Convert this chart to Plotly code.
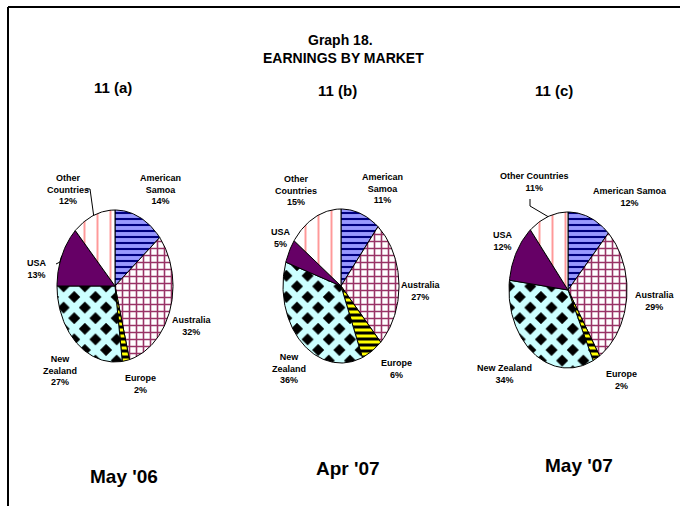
import numpy as np
import plotly.graph_objects as go

# ---- data -------------------------------------------------------------
markets = ["American Samoa", "Australia", "Europe", "New Zealand", "USA", "Other Countries"]
share_may06 = [14, 32, 2, 27, 13, 12]
share_apr07 = [11, 27, 6, 36, 5, 15]
share_may07 = [12, 29, 2, 34, 12, 11]
panel_codes = ["11 (a)", "11 (b)", "11 (c)"]
period_labels = ["May '06", "Apr '07", "May '07"]

# ---- styling ----------------------------------------------------------
FONT = "Liberation Sans, Arial"
fills = {
    "American Samoa": dict(shape="-", bgcolor="#9999FF", fgcolor="#000080", size=6, solidity=0.35),
    "Australia": dict(shape="+", bgcolor="#FFFFFF", fgcolor="#993366", size=7, solidity=0.4),
    "Europe": dict(shape="-", bgcolor="#FFFF00", fgcolor="#000000", size=6, solidity=0.5),
    # diagonal lattice of light cyan leaves black diamonds in a staggered grid
    "New Zealand": dict(shape="x", bgcolor="#000000", fgcolor="#CCFFFF", size=15, solidity=0.68),
    "USA": dict(shape="", bgcolor="#660066", fgcolor="#660066", size=8, solidity=1),
    "Other Countries": dict(shape="|", bgcolor="#FFFFFF", fgcolor="#FF9999", size=13, solidity=0.15),
}

# layout of each elliptical pie (centre x, centre y, radius x, radius y) in page pixels
pies = [
    dict(vals=share_may06, cx=115, cy=286, rx=58, ry=76),
    dict(vals=share_apr07, cx=341, cy=286, rx=58, ry=77),
    dict(vals=share_may07, cx=568, cy=290, rx=59, ry=78),
]

# label text templates and anchor positions per pie
label_text = [
    ["American<br>Samoa<br>{}%", "Australia<br>{}%", "Europe<br>{}%",
     "New<br>Zealand<br>{}%", "USA<br>{}%", "Other<br>Countries<br>{}%"],
    ["American<br>Samoa<br>{}%", "Australia<br>{}%", "Europe<br>{}%",
     "New<br>Zealand<br>{}%", "USA<br>{}%", "Other<br>Countries<br>{}%"],
    ["American Samoa<br>{}%", "Australia<br>{}%", "Europe<br>{}%",
     "New Zealand<br>{}%", "USA<br>{}%", "Other Countries<br>{}%"],
]
label_pos = [
    [(160, 189), (192, 326), (140, 384), (60, 370), (37, 269), (68, 189)],
    [(382, 188), (421, 291), (396, 369), (289, 368), (281, 238), (296, 190)],
    [(630, 197), (655, 301), (621, 380), (504, 374), (503, 241), (534, 182)],
]
# slices that get a leader line: (pie index, slice index, start points near the label)
leaders = [(0, 5, [(86, 189), (90, 189)]), (0, 4, [(56, 264), (60, 262)]),
           (2, 5, [(530, 199), (530, 206)])]


def point(p, ang):
    return p["cx"] + p["rx"] * np.sin(ang), p["cy"] - p["ry"] * np.cos(ang)


fig = go.Figure()
for pi, p in enumerate(pies):
    vals = np.array(p["vals"], dtype=float)
    bounds = np.concatenate([[0], np.cumsum(vals)]) / vals.sum() * 2 * np.pi
    for k, name in enumerate(markets):
        t = np.linspace(bounds[k], bounds[k + 1], max(8, int(vals[k] * 3)))
        ex, ey = point(p, t)
        xs = np.concatenate([[p["cx"]], ex, [p["cx"]]])
        ys = np.concatenate([[p["cy"]], ey, [p["cy"]]])
        f = fills[name]
        fig.add_trace(go.Scatter(
            x=xs, y=ys, mode="lines", fill="toself",
            fillcolor=f["bgcolor"],
            fillpattern=dict(shape=f["shape"], bgcolor=f["bgcolor"], fgcolor=f["fgcolor"],
                             fgopacity=1, size=f["size"], solidity=f["solidity"]),
            line=dict(color="black", width=1), showlegend=False, hoverinfo="skip"))
        tx, ty = label_pos[pi][k]
        fig.add_annotation(x=tx, y=ty, text="<b>" + label_text[pi][k].format(p["vals"][k]) + "</b>",
                           showarrow=False, font=dict(family=FONT, size=9, color="black"),
                           align="center")
    # leader lines from label to slice edge
    for li, si, pts in leaders:
        if li != pi:
            continue
        mid = (bounds[si] + bounds[si + 1]) / 2
        exx, eyy = point(p, mid)
        xs = [q[0] for q in pts] + [exx]
        ys = [q[1] for q in pts] + [eyy]
        fig.add_trace(go.Scatter(x=xs, y=ys, mode="lines", line=dict(color="black", width=1),
                                 showlegend=False, hoverinfo="skip"))

# titles
fig.add_annotation(x=340, y=40, text="<b>Graph 18.</b>", showarrow=False,
                   font=dict(family=FONT, size=14, color="black"))
fig.add_annotation(x=343, y=58, text="<b>EARNINGS BY MARKET</b>", showarrow=False,
                   font=dict(family=FONT, size=14, color="black"))
for (x, y), txt in zip([(113, 87), (337, 90), (554, 90)], panel_codes):
    fig.add_annotation(x=x, y=y, text="<b>" + txt + "</b>", showarrow=False,
                       font=dict(family=FONT, size=15, color="black"))
for (x, y), txt in zip([(124, 476), (348, 468), (579, 465)], period_labels):
    fig.add_annotation(x=x, y=y, text="<b>" + txt + "</b>", showarrow=False,
                       font=dict(family=FONT, size=19, color="black"))

# frame lines on top and left
fig.add_shape(type="line", xref="x", yref="y", x0=8, y0=7, x1=680, y1=7,
              line=dict(color="black", width=2))
fig.add_shape(type="line", xref="x", yref="y", x0=8, y0=7, x1=8, y1=506,
              line=dict(color="black", width=2))

fig.update_xaxes(range=[0, 680], visible=False, fixedrange=True)
fig.update_yaxes(range=[506, 0], visible=False, fixedrange=True)
fig.update_layout(width=680, height=506, margin=dict(l=0, r=0, t=0, b=0),
                  paper_bgcolor="white", plot_bgcolor="white")
fig.write_html("out.html")
